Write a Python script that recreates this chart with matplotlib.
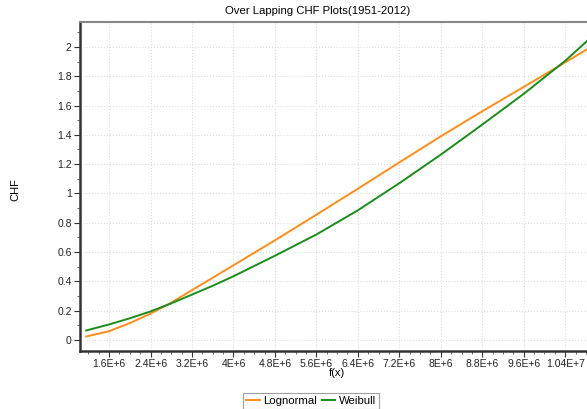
import matplotlib
matplotlib.use("Agg")
from matplotlib import pyplot as plt
from matplotlib import ticker
import numpy as np

plt.rcParams['font.family'] = ['Liberation Sans', 'DejaVu Sans']

# values (x in units of 1E+6)
lognormal_x = [1.16, 1.6, 2.0, 2.4, 2.8, 3.2, 3.6, 4.0, 4.8, 5.6, 6.4, 7.2, 8.0, 8.8, 9.6, 10.4, 10.82]
lognormal_y = [0.024, 0.06, 0.115, 0.18, 0.255, 0.34, 0.425, 0.51, 0.68, 0.855, 1.032, 1.212, 1.39, 1.561, 1.727, 1.895, 1.983]
weibull_x = [1.16, 1.6, 2.0, 2.4, 2.8, 3.2, 3.6, 4.0, 4.8, 5.6, 6.4, 7.2, 8.0, 8.8, 9.6, 10.4, 10.82]
weibull_y = [0.065, 0.106, 0.148, 0.195, 0.25, 0.31, 0.37, 0.435, 0.575, 0.72, 0.885, 1.07, 1.265, 1.47, 1.68, 1.905, 2.04]

xticks = [1.6, 2.4, 3.2, 4.0, 4.8, 5.6, 6.4, 7.2, 8.0, 8.8, 9.6, 10.4]
yticks = [0, 0.2, 0.4, 0.6, 0.8, 1, 1.2, 1.4, 1.6, 1.8, 2]


def sci_label(v, pos=None):
    v = v * 1e6
    exp = int(np.floor(np.log10(v)))
    mant = v / 10 ** exp
    return f"{mant:g}E+{exp}"


fig = plt.figure(figsize=(5.87, 4.09), dpi=100)
ax = fig.add_axes([80 / 587, 1 - 351 / 409, 507 / 587, 329 / 409])

ax.plot(np.array(lognormal_x), lognormal_y, color='#ff8c1a', lw=1.4, label='Lognormal')
ax.plot(np.array(weibull_x), weibull_y, color='#1a8c1a', lw=1.4, label='Weibull')

ax.set_xlim(1.04, 10.82)
ax.set_ylim(-0.075, 2.17)
ax.set_xticks(xticks)
ax.set_yticks(yticks)
ax.xaxis.set_major_formatter(ticker.FuncFormatter(sci_label))
ax.yaxis.set_major_formatter(ticker.FuncFormatter(lambda v, p: f"{v:g}"))
ax.xaxis.set_minor_locator(ticker.MultipleLocator(0.2))
ax.yaxis.set_minor_locator(ticker.MultipleLocator(0.1))
ax.tick_params(which='major', length=4, width=0.8, color='#333333', labelsize=7.5, labelcolor='#222222', pad=2)
ax.tick_params(which='minor', length=2, width=0.6, color='#555555')
ax.grid(True, which='major', color='#dddddd', linestyle=':', linewidth=0.8)

for s in ['left', 'bottom']:
    ax.spines[s].set_color('#333333')
    ax.spines[s].set_linewidth(1.8)
ax.spines['top'].set_color('#888888')
ax.spines['top'].set_linewidth(1.5)
ax.spines['right'].set_visible(False)

fig.text(318 / 587, 1 - 11 / 409, "Over Lapping CHF Plots(1951-2012)", ha='center', va='center', fontsize=8.2)
fig.text(337 / 587, 1 - 373 / 409, "f(x)", ha='center', va='center', fontsize=8)
fig.text(15 / 587, 1 - 190 / 409, "CHF", ha='center', va='center', rotation=90, fontsize=8)

leg = fig.legend(loc='center', bbox_to_anchor=(311 / 587, 1 - 401 / 409), ncol=2, fontsize=8.2,
                 frameon=True, fancybox=False, handlelength=1.2, handletextpad=0.3, columnspacing=0.4,
                 borderpad=0.3, borderaxespad=0)
leg.get_frame().set_edgecolor('#888888')
leg.get_frame().set_linewidth(0.8)

fig.savefig("out.png", dpi=100)
